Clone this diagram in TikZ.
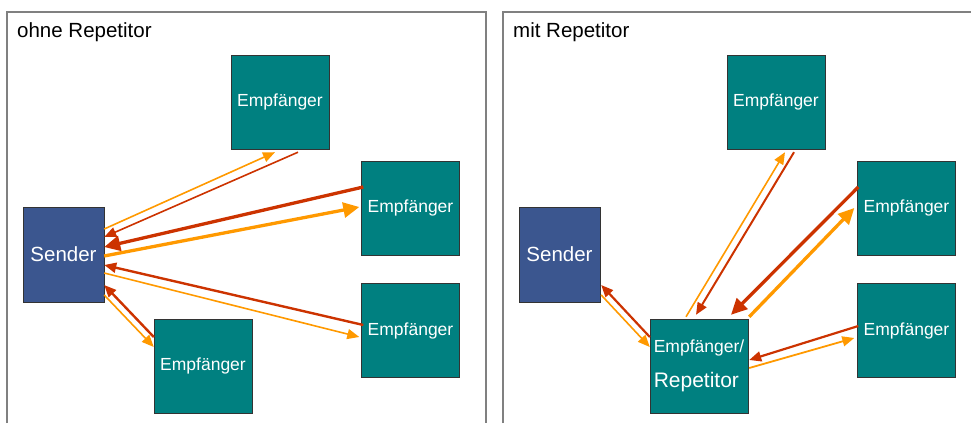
\documentclass[tikz,border=0pt]{standalone}
\usepackage{fontspec}
\setmainfont{Liberation Sans}
\usetikzlibrary{arrows.meta, positioning}

\begin{document}
\begin{tikzpicture}[x=1pt, y=-1pt, node distance=496pt]

\definecolor{senderblau}{RGB}{59,86,143}
\definecolor{empfgruen}{RGB}{0,128,128}
\definecolor{hinfarbe}{RGB}{255,153,0}
\definecolor{rueckfarbe}{RGB}{204,51,0}
\definecolor{rahmenfarbe}{RGB}{128,128,128}

\tikzstyle{rahmen} = [draw=rahmenfarbe, line width=1.2pt]
\tikzstyle{titel} = [anchor=base west, inner sep=0pt, font=\fontsize{20.5}{24}\selectfont]
\tikzstyle{sender} = [rectangle, draw=black!80, fill=senderblau, text=white, minimum width=81pt, minimum height=95pt, inner sep=0pt, font=\fontsize{20.5}{24}\selectfont]
\tikzstyle{empf} = [rectangle, draw=black!80, fill=empfgruen, text=white, minimum width=98pt, minimum height=94pt, inner sep=0pt, font=\fontsize{17.5}{20}\selectfont]
\tikzstyle{hin} = [-{Triangle[length=12pt,width=10pt]}, line width=1.6pt, draw=hinfarbe]
\tikzstyle{rueck} = [-{Triangle[length=12pt,width=10pt]}, line width=2pt, draw=rueckfarbe]
\tikzstyle{dick} = [-{Triangle[length=16pt,width=15pt]}, line width=3.3pt]

\useasboundingbox (0,0) rectangle (971,423);

% Rahmen
\draw[rahmen] (7,423) |- (486,12) -- (486,423);
\draw[rahmen] (503,423) |- (971,12);
\node[titel] (t1) at (17,37) {ohne Repetitor};
\node[titel] (t2) at (513,37) {mit Repetitor};

% ohne Repetitor
\node[sender] (S) at (63.5,254.5) {Sender};
\node[empf] (T) at (280,102) {Empfänger};
\node[empf] (R1) at (410.5,208) {Empfänger};
\node[empf] (R2) at (410.5,330.5) {Empfänger};
\node[empf] (B) at (203,366) {Empfänger};

% mit Repetitor
\node[sender, right of=S] (S2) {Sender};
\node[empf, right of=T] (T2) {Empfänger};
\node[empf, right of=R1] (R3) {Empfänger};
\node[empf, right of=R2] (R4) {Empfänger};
\node[empf, right of=B, align=left] (Rep) {Empfänger/\\[15pt]{\fontsize{21}{25}\selectfont Repetitor}};

\draw[hin] ([yshift=25.5pt]S.east) -- ([xshift=-5pt,yshift=-3pt]T.south);
\draw[rueck, line width=1.6pt] ([xshift=18pt,yshift=-3pt]T.south) -- ([yshift=17.5pt]S.east);
\draw[rueck, dick] ([xshift=2pt,yshift=21pt]R1.west) -- ([yshift=7.5pt]S.east);
\draw[hin, dick] ([yshift=-1.5pt]S.east) -- ([xshift=-2pt,yshift=1pt]R1.west);
\draw[rueck, line width=2.4pt] ([xshift=2pt,yshift=5.5pt]R2.west) -- ([yshift=-10.5pt]S.east);
\draw[hin] ([yshift=-18.5pt]S.east) -- ([xshift=-2pt,yshift=-6.5pt]R2.west);
\draw[rueck, line width=2.4pt] ([yshift=29pt]B.west) -- ([yshift=-30.5pt]S.east);
\draw[hin] ([yshift=-40.5pt]S.east) -- ([yshift=19pt]B.west);

\draw[hin] ([xshift=-13pt,yshift=2pt]Rep.north) -- ([xshift=9pt,yshift=-3pt]T2.south);
\draw[rueck] ([xshift=18pt,yshift=-3pt]T2.south) -- ([xshift=-3pt,yshift=4pt]Rep.north);
\draw[rueck, dick] ([xshift=1pt,yshift=21pt]R3.west) -- ([xshift=32pt,yshift=4pt]Rep.north);
\draw[hin, dick] ([xshift=1pt,yshift=2pt]Rep.north east) -- ([xshift=-3pt]R3.west);
\draw[rueck, line width=2.2pt] ([xshift=1pt,yshift=4.5pt]R4.west) -- ([xshift=1pt,yshift=6pt]Rep.east);
\draw[hin, line width=1.8pt] ([xshift=1pt,yshift=-2pt]Rep.east) -- ([xshift=-3pt,yshift=-7.5pt]R4.west);
\draw[rueck, line width=2.2pt] ([yshift=29pt]Rep.west) -- ([xshift=1pt,yshift=-30.5pt]S2.east);
\draw[hin] ([xshift=1pt,yshift=-40.5pt]S2.east) -- ([yshift=19pt]Rep.west);

\end{tikzpicture}
\end{document}
